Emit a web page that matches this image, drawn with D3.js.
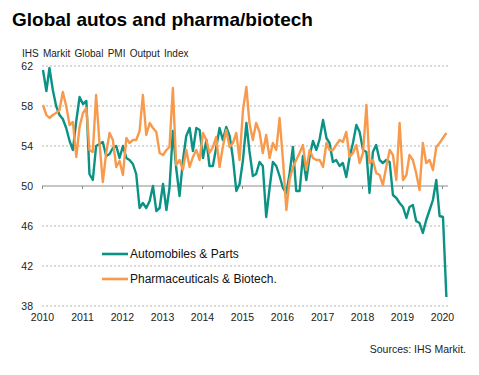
<!DOCTYPE html>
<html>
<head>
<meta charset="utf-8">
<script src="https://cdn.jsdelivr.net/npm/d3@7.9.0/dist/d3.min.js"></script>
<style>
  body { margin: 0; background: #fff; }
  svg { display: block; font-family: "Liberation Sans", Arial, sans-serif; }
</style>
</head>
<body>
<svg id="chart" width="479" height="375"></svg>
<script>
// monthly readings, Jan 2010 .. Feb 2020
const startYear = 2010;
const autos = [
  61.6, 59.5, 61.8, 59.6, 58.0, 57.1, 56.7, 55.8, 54.5, 53.6, 56.5, 58.9,
  58.2, 58.5, 51.2, 50.6, 54.0, 54.2, 54.4, 53.0, 53.2, 53.8, 54.0, 52.8,
  54.0, 52.8, 52.6, 52.2, 51.2, 47.8, 48.3, 47.8, 48.5, 50.0, 47.5, 47.8,
  50.2, 47.6, 49.8, 55.5, 51.8, 49.0, 52.5, 55.0, 55.8, 53.5, 55.8, 55.6,
  52.8, 54.6, 52.0, 52.0, 53.8, 55.8, 54.6, 55.9, 55.0, 52.8, 49.5, 50.2,
  52.6, 56.3, 53.5, 51.0, 51.2, 52.4, 52.0, 46.9, 49.8, 52.4, 52.0, 51.0,
  49.8, 49.3, 51.2, 53.9, 49.5, 49.5, 53.0, 50.6, 53.0, 54.5, 53.6, 54.7,
  56.6, 54.8, 54.3, 52.4, 52.6, 52.0, 52.3, 50.9, 52.9, 54.3, 56.1, 55.4,
  53.6, 53.4, 49.3, 53.4, 54.1, 52.6, 52.3, 52.6, 52.4, 49.1, 48.8, 48.3,
  47.9, 46.8, 47.9, 48.1, 46.5, 46.3, 45.3, 46.6, 47.6, 48.6, 50.6, 47.0,
  46.9, 38.9
];
const pharma = [
  58.1, 57.1, 56.8, 57.1, 57.3, 57.6, 59.4, 58.0, 56.1, 56.4, 52.9, 55.9,
  57.3, 57.8, 53.6, 53.4, 59.1, 54.3, 50.4, 53.3, 55.3, 54.6, 51.9, 52.5,
  51.1, 54.8, 54.3, 54.6, 54.6, 55.5, 59.1, 55.1, 56.3, 55.8, 55.4, 53.3,
  53.1, 53.6, 53.9, 59.8, 52.1, 52.6, 51.6, 53.6, 51.9, 52.9, 53.6, 52.6,
  55.3, 54.6, 53.3, 53.9, 54.9, 51.9, 53.9, 55.6, 53.9, 54.3, 55.3, 52.6,
  57.6, 59.9, 56.3, 54.6, 56.3, 55.4, 53.3, 55.1, 52.8, 54.3, 53.6, 56.8,
  52.6, 47.6, 50.6, 51.9, 52.6, 53.3, 54.1, 51.6, 53.6, 52.8, 52.6, 52.6,
  51.9, 54.3, 53.6, 53.6, 54.1, 54.6, 54.4, 55.4, 52.9, 53.3, 54.1, 52.3,
  53.3, 58.1, 52.3, 52.6, 51.3, 51.1, 50.1, 51.9, 53.6, 53.1, 50.6, 56.3,
  50.6, 51.1, 53.1, 52.6, 51.3, 49.6, 54.3, 52.3, 52.6, 51.6, 53.9, 54.3,
  54.8, 55.3
];
const yTicks = [38, 42, 46, 50, 54, 58, 62];
const years = d3.range(2010, 2021);
const seriesNames = ["Automobiles & Parts", "Pharmaceuticals & Biotech."];
const colors = ["#0b9285", "#f89a4c"];

const svg = d3.select("#chart");

// title block
svg.append("text").attr("x", 12).attr("y", 26)
  .attr("font-size", 19).attr("font-weight", "bold").attr("fill", "#000")
  .text("Global autos and pharma/biotech");
svg.append("text").attr("x", 22).attr("y", 57)
  .attr("font-size", 10).attr("fill", "#222").attr("word-spacing", 1.5)
  .text("IHS Markit Global PMI Output Index");

const x = d3.scaleTime()
  .domain([new Date(2010, 0, 1), new Date(2020, 0, 1)])
  .range([42, 442]);
const y = d3.scaleLinear().domain([38, 62]).range([306, 66]);
const xEnd = 448;

// dashed gridlines
svg.append("g").selectAll("line")
  .data(yTicks.filter(d => d !== 50))
  .join("line")
  .attr("x1", 42).attr("x2", xEnd)
  .attr("y1", d => y(d)).attr("y2", d => y(d))
  .attr("stroke", "#b5b5b5").attr("stroke-width", 1)
  .attr("stroke-dasharray", "2,2");

// y labels
const yAxis = svg.append("g").attr("transform", "translate(42,0)")
  .call(d3.axisLeft(y).tickValues(yTicks).tickSize(0).tickPadding(9));
yAxis.select(".domain").remove();
yAxis.selectAll("text").attr("font-size", 10.5).attr("fill", "#222")
  .attr("font-family", "Liberation Sans, Arial, sans-serif");

// axis line at 50 with yearly ticks
const xAxis = svg.append("g").attr("transform", `translate(0,${y(50)})`)
  .call(d3.axisBottom(x).tickValues(years.map(yr => new Date(yr, 0, 1)))
    .tickSize(3).tickFormat(""));
xAxis.select(".domain").attr("d", `M42,0H${xEnd}`).attr("stroke", "#8c8c8c");
xAxis.selectAll(".tick line").attr("stroke", "#8c8c8c");

// year labels along the bottom
const xLabels = svg.append("g").attr("transform", "translate(0,306)")
  .call(d3.axisBottom(x).tickValues(years.map(yr => new Date(yr, 0, 1)))
    .tickSize(0).tickPadding(8).tickFormat(d3.timeFormat("%Y")));
xLabels.select(".domain").remove();
xLabels.selectAll("text").attr("font-size", 10.5).attr("fill", "#222")
  .attr("font-family", "Liberation Sans, Arial, sans-serif");

// series lines
const line = d3.line()
  .x((d, i) => x(new Date(startYear, i, 10)))
  .y(d => y(d));
[autos, pharma].forEach((vals, k) => {
  svg.append("path").datum(vals)
    .attr("d", line)
    .attr("fill", "none")
    .attr("stroke", colors[k])
    .attr("stroke-width", 2.4)
    .attr("stroke-linejoin", "round");
});

// legend
const legend = svg.append("g");
seriesNames.forEach((name, k) => {
  const ly = 254 + k * 25;
  legend.append("line").attr("x1", 102).attr("x2", 128)
    .attr("y1", ly).attr("y2", ly)
    .attr("stroke", colors[k]).attr("stroke-width", 2.6);
  legend.append("text").attr("x", 130).attr("y", ly + 4)
    .attr("font-size", 12).attr("fill", "#111").text(name);
});

// source
svg.append("text").attr("x", 466).attr("y", 353)
  .attr("text-anchor", "end").attr("font-size", 10.5).attr("fill", "#222")
  .text("Sources: IHS Markit.");
</script>
</body>
</html>
